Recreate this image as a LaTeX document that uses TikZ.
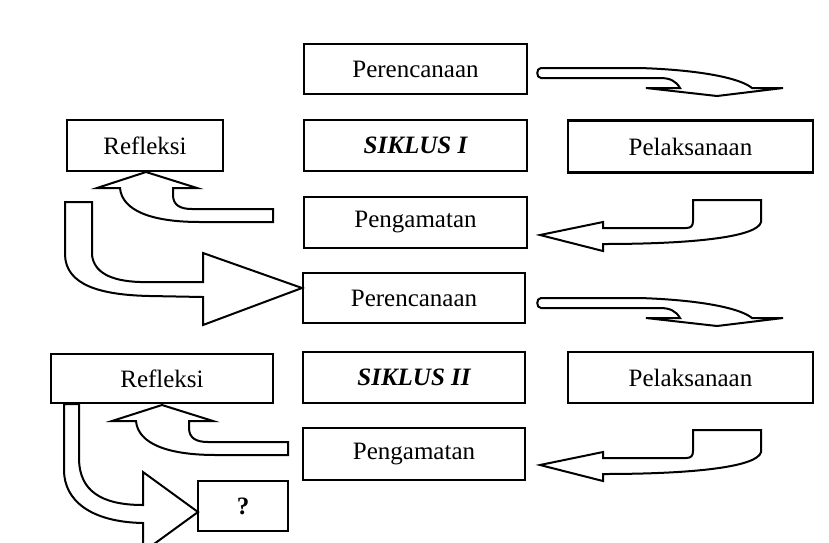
\documentclass[tikz,border=0pt]{standalone}
\usepackage{fontspec}
\setmainfont{Liberation Serif}
\begin{document}
\begin{tikzpicture}[x=1pt,y=-1pt,
  box/.style={draw, line width=2.4pt, fill=white, inner sep=0pt, minimum height=50pt,
              font=\fontsize{25}{28}\selectfont},
  blk/.style={draw, line width=2pt, fill=white, line join=miter}]
\useasboundingbox (0,0) rectangle (829,542);
\fill[white] (0,0) rectangle (829,542);

% ---------- boxes ----------
\node[box, minimum width=223pt] (pr1) at (415.5,69) {Perencanaan};
\node[box, minimum width=223pt, minimum height=51pt] (s1) at (415.5,145.5) {\bfseries\itshape SIKLUS I};
\node[box, minimum width=223pt, minimum height=51pt] (pg1) at (415.5,222.5) {Pengamatan};
\node[box, minimum width=156pt, minimum height=51pt] (rf1) at (145,145.5) {Refleksi};
\node[box, minimum width=245pt, minimum height=52pt] (pl1) at (690.5,146.5) {Pelaksanaan};

\node[box, minimum width=222pt] (pr2) at (414,298) {Perencanaan};
\node[box, minimum width=222pt, minimum height=51pt] (s2) at (414,377.5) {\bfseries\itshape SIKLUS II};
\node[box, minimum width=222pt, minimum height=52pt] (pg2) at (414,454) {Pengamatan};
\node[box, minimum width=222pt, minimum height=49pt] (rf2) at (162,378.5) {Refleksi};
\node[box, minimum width=245pt, minimum height=51pt] (pl2) at (690.5,377.5) {Pelaksanaan};
\node[box, minimum width=90pt] (q) at (243,506) {\bfseries ?};

% ---------- flat arrows Perencanaan -> Pelaksanaan ----------
\foreach \dy in {0,230}{
\begin{scope}[yshift=-\dy pt]
\draw[blk] (541,68) -- (640,68) .. controls (700,70) and (740,78) .. (752,88)
  -- (783,88) -- (717,96) -- (646,88) -- (680,88)
  .. controls (676,81) and (670,78) .. (660,78) -- (541,78)
  .. controls (536,78) and (536,68) .. (541,68) -- cycle;
\end{scope}
}

% ---------- arrows Pelaksanaan -> Pengamatan ----------
\foreach \dy in {0,230}{
\begin{scope}[yshift=-\dy pt]
\draw[blk] (540,235) -- (603,222) -- (603,228) -- (686,228)
  .. controls (691,228) and (693,226) .. (693,221) -- (693,200) -- (761,200) -- (761,222)
  .. controls (758,236) and (700,244) .. (603,244) -- (603,251) -- cycle;
\end{scope}
}

% ---------- arrow Pengamatan I -> Refleksi I ----------
\draw[blk] (146,172) -- (197,188) -- (173,188) -- (173,195)
  .. controls (173,205) and (180,209) .. (192,209) -- (273,209) -- (273,222) -- (200,222)
  .. controls (150,222) and (122,210) .. (120,188) -- (97,188) -- cycle;

% ---------- arrow Pengamatan II -> Refleksi II ----------
\draw[blk] (162,405) -- (213,421) -- (189,421) -- (189,428)
  .. controls (189,438) and (196,442) .. (208,442) -- (288,442) -- (288,455) -- (216,455)
  .. controls (166,455) and (138,443) .. (136,421) -- (112,421) -- cycle;

% ---------- big arrow Refleksi I -> Perencanaan II ----------
\draw[blk] (65,202) -- (92,202) -- (92,255)
  .. controls (94,272) and (110,281) .. (140,282) -- (203,282) -- (203,253)
  -- (302,288) -- (203,325) -- (203,297) -- (150,296)
  .. controls (100,295) and (66,285) .. (65,255) -- cycle;

% ---------- big arrow Refleksi II -> ? ----------
\begin{scope}
\clip (0,0) rectangle (829,542);
\draw[blk] (64,404) -- (79,404) -- (79,460)
  .. controls (80,490) and (100,505) .. (143,505) -- (143,472) -- (198,512)
  -- (143,552) -- (143,523)
  .. controls (90,522) and (64,500) .. (64,470) -- cycle;
\end{scope}
\end{tikzpicture}
\end{document}
